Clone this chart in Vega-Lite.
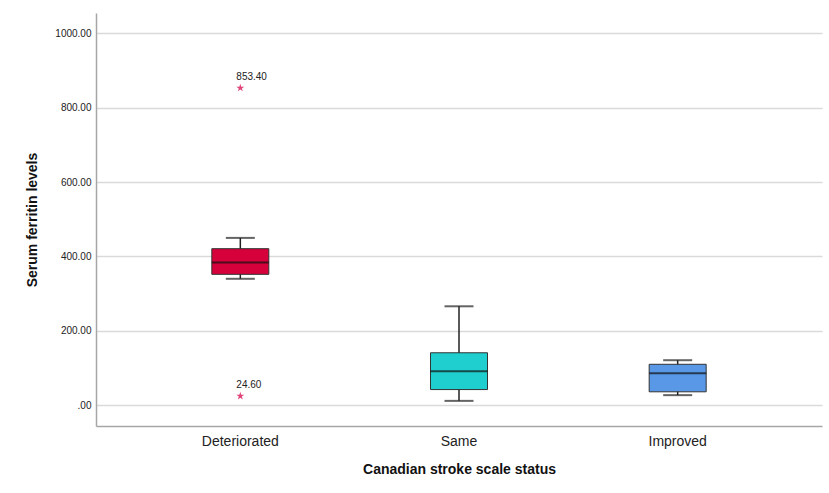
{
  "$schema": "https://vega.github.io/schema/vega-lite/v6.json",
  "autosize": {"type": "none"},
  "width": 726,
  "height": 413,
  "padding": {"left": 96, "top": 13, "right": 7, "bottom": 67},
  "background": "white",
  "config": {
    "font": "Liberation Sans",
    "view": {"stroke": null},
    "axis": {"labelFont": "Liberation Sans", "titleFont": "Liberation Sans"}
  },
  "datasets": {
    "boxes": [
      {"status": "Deteriorated", "lower": 340, "q1": 352, "median": 384, "q3": 421, "upper": 450},
      {"status": "Same", "lower": 11.6, "q1": 42, "median": 91.5, "q3": 141, "upper": 266},
      {"status": "Improved", "lower": 27, "q1": 36, "median": 86, "q3": 110, "upper": 121}
    ],
    "outliers": [
      {"status": "Deteriorated", "value": 853.4, "label": "853.40"},
      {"status": "Deteriorated", "value": 24.6, "label": "24.60"}
    ]
  },
  "encoding": {
    "x": {
      "field": "status",
      "type": "nominal",
      "sort": ["Deteriorated", "Same", "Improved"],
      "scale": {"paddingInner": 0, "paddingOuter": 0.16},
      "axis": {
        "title": "Canadian stroke scale status",
        "titleFontSize": 14,
        "titleFontWeight": "bold",
        "titleColor": "#111",
        "titlePadding": 14,
        "labelFontSize": 14,
        "labelColor": "#222",
        "labelAngle": 0,
        "labelPadding": 8,
        "ticks": false,
        "domainColor": "#a6a6a6",
        "domainWidth": 1.5,
        "grid": false
      }
    }
  },
  "layer": [
    {
      "data": {"name": "boxes"},
      "mark": {"type": "rule", "color": "#222", "strokeWidth": 1.5},
      "encoding": {
        "y": {
          "field": "lower",
          "type": "quantitative",
          "scale": {"domain": [-56, 1055], "nice": false, "zero": false},
          "axis": {
            "title": "Serum ferritin levels",
            "titleFontSize": 14,
            "titleFontWeight": "bold",
            "titleColor": "#111",
            "titlePadding": 15,
            "labelFontSize": 10,
            "labelColor": "#222",
            "labelPadding": 5,
            "ticks": false,
            "values": [0, 200, 400, 600, 800, 1000],
            "labelExpr": "datum.value == 0 ? '.00' : format(datum.value, '.2f')",
            "grid": true,
            "gridColor": "#dadada",
            "gridWidth": 1.5,
            "domainColor": "#a6a6a6",
            "domainWidth": 1.5
          }
        },
        "y2": {"field": "upper"}
      }
    },
    {
      "data": {"name": "boxes"},
      "mark": {"type": "bar", "size": 57, "stroke": "#333", "strokeWidth": 1},
      "encoding": {
        "y": {"field": "q1", "type": "quantitative"},
        "y2": {"field": "q3"},
        "color": {
          "field": "status",
          "type": "nominal",
          "scale": {"domain": ["Deteriorated", "Same", "Improved"], "range": ["#d6003a", "#1fcfcf", "#5898e6"]},
          "legend": null
        }
      }
    },
    {
      "data": {"name": "boxes"},
      "mark": {"type": "tick", "size": 57, "thickness": 2, "color": "#111"},
      "encoding": {"y": {"field": "median", "type": "quantitative"}}
    },
    {
      "data": {"name": "boxes"},
      "mark": {"type": "tick", "size": 29, "thickness": 2, "color": "#222"},
      "encoding": {"y": {"field": "upper", "type": "quantitative"}}
    },
    {
      "data": {"name": "boxes"},
      "mark": {"type": "tick", "size": 29, "thickness": 2, "color": "#222"},
      "encoding": {"y": {"field": "lower", "type": "quantitative"}}
    },
    {
      "data": {"name": "outliers"},
      "mark": {
        "type": "point",
        "filled": true,
        "color": "#e0457a",
        "opacity": 1,
        "size": 70,
        "shape": "M0,-1L0.2245,-0.309L0.951,-0.309L0.363,0.118L0.588,0.809L0,0.382L-0.588,0.809L-0.363,0.118L-0.951,-0.309L-0.2245,-0.309Z"
      },
      "encoding": {"y": {"field": "value", "type": "quantitative"}}
    },
    {
      "data": {"name": "outliers"},
      "mark": {"type": "text", "align": "left", "baseline": "bottom", "dx": -4, "dy": -6, "fontSize": 10, "color": "#222"},
      "encoding": {
        "y": {"field": "value", "type": "quantitative"},
        "text": {"field": "label"}
      }
    }
  ]
}
